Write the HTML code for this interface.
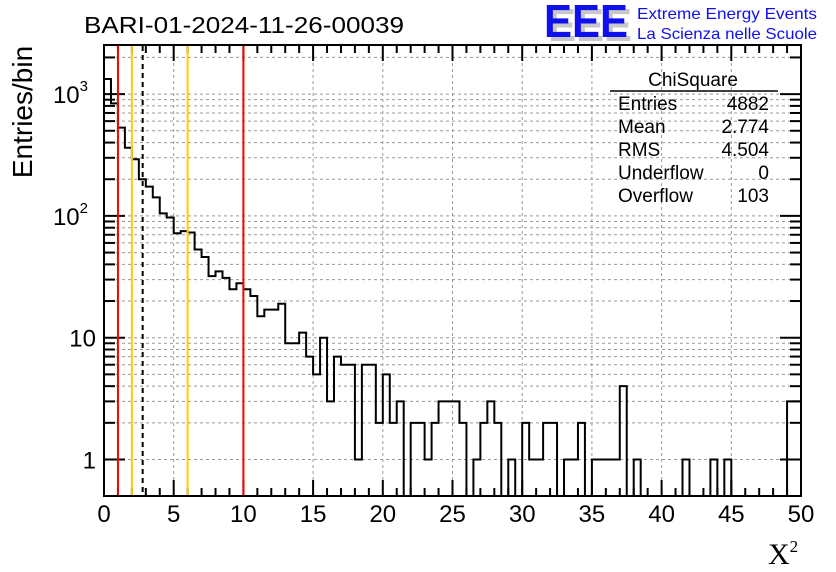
<!DOCTYPE html>
<html><head><meta charset="utf-8"><style>
html,body{margin:0;padding:0;background:#fff;}
svg{display:block;font-family:"Liberation Sans",sans-serif;}
</style></head><body>
<svg id="chart" width="836" height="572" viewBox="0 0 836 572">
<rect x="0" y="0" width="836" height="572" fill="#fff"/>
<g id="grid"></g>
<path id="hist" fill="none" stroke="#000" stroke-width="2"/>
<g id="axes"></g>
<g id="vlines"></g>
<text x="84" y="33" font-size="23" textLength="320" lengthAdjust="spacingAndGlyphs">BARI-01-2024-11-26-00039</text>
<g>
<text x="548" y="41" font-size="46" font-weight="bold" fill="#c8c8c8" textLength="84" lengthAdjust="spacingAndGlyphs">EEE</text>
<text x="544" y="37" font-size="46" font-weight="bold" fill="#1010ee" textLength="84" lengthAdjust="spacingAndGlyphs">EEE</text>
<text x="637" y="19" font-size="16" fill="#1010ee" textLength="180" lengthAdjust="spacingAndGlyphs">Extreme Energy Events</text>
<text x="637" y="39" font-size="16" fill="#1010ee" textLength="180" lengthAdjust="spacingAndGlyphs">La Scienza nelle Scuole</text>
</g>
<g font-size="19">
<text x="693" y="86" text-anchor="middle">ChiSquare</text>
<line x1="610" y1="91" x2="778" y2="91" stroke="#000" stroke-width="1.5"/>
<text x="618" y="110">Entries</text><text x="769" y="110" text-anchor="end">4882</text>
<text x="618" y="133">Mean</text><text x="769" y="133" text-anchor="end">2.774</text>
<text x="618" y="156">RMS</text><text x="769" y="156" text-anchor="end">4.504</text>
<text x="618" y="179">Underflow</text><text x="769" y="179" text-anchor="end">0</text>
<text x="618" y="202">Overflow</text><text x="769" y="202" text-anchor="end">103</text>
</g>
<text transform="translate(32,112) rotate(-90)" text-anchor="middle" font-size="28">Entries/bin</text>
<text x="768" y="564" font-family="Liberation Serif,serif" font-size="30">X<tspan font-size="17" dy="-12">2</tspan></text>
</svg>
<script>
const counts = [1330,840,530,363,292,200,174,142,105,97,72,75,73,53,46,32,35,31,25,28,25,22,15,17,17,19,9,9,11,7,5,10,3,7,6,6,1,6,6,2,5,2,3,0,2,2,1,2,3,3,3,2,0,1,2,3,2,0,1,0,2,1,1,2,2,0,1,1,2,0,1,1,1,1,4,0,1,0,0,0,0,0,0,1,0,0,0,1,0,1,0,0,0,0,0,0,0,0,3,3];
const xTicks = [0,5,10,15,20,25,30,35,40,45,50];
const cutValues = [1,2,2.774,6,10];
const cutColors = ["#ff0000","#ffcc00","#000","#ffcc00","#ff0000"];
const NS="http://www.w3.org/2000/svg";
const L=104,R=801,T=45,B=496,xMin=0,xMax=50,binW=0.5;
const y1=459.5,dec=121.8;
function X(v){return L+(v-xMin)/(xMax-xMin)*(R-L);}
function Y(v){if(v<=0.5)return B;const y=y1-Math.log10(v)*dec;return Math.max(T,Math.min(B,y));}
function mk(tag,attrs,parent){const e=document.createElementNS(NS,tag);for(const k in attrs)e.setAttribute(k,attrs[k]);parent.appendChild(e);return e;}
const grid=document.getElementById('grid'),axes=document.getElementById('axes'),vl=document.getElementById('vlines');
for(const t of xTicks){if(t>xMin&&t<xMax){const l=mk('line',{x1:X(t),x2:X(t),y1:T,y2:B,stroke:'#999','stroke-dasharray':'3,3'},grid);}}
const yVals=[];for(let d=0;d<=3;d++)for(let m=1;m<=9;m++)yVals.push(m*Math.pow(10,d));
for(const v of yVals){const y=Y(v);if(y>T&&y<B){const l=mk('line',{x1:L,x2:R,y1:y,y2:y,stroke:'#999','stroke-dasharray':'3,3'},grid);}}
cutValues.forEach((c,i)=>{const l=mk('line',{x1:X(c),x2:X(c),y1:T+1,y2:B-1,stroke:cutColors[i],'stroke-width':2},vl);if(i===2)l.setAttribute('stroke-dasharray','5,4');});
let d='M'+X(0)+','+B;
counts.forEach((c,i)=>{const y=Y(c);d+=' L'+X(i*binW)+','+y+' L'+X((i+1)*binW)+','+y;});
d+=' L'+X(counts.length*binW)+','+B;
document.getElementById('hist').setAttribute('d',d);
const fr=mk('rect',{x:L,y:T,width:R-L,height:B-T,fill:'none',stroke:'#000','stroke-width':2},axes);

for(let v=xMin;v<=xMax;v+=1){const maj=v%5===0;const len=maj?16:8;
mk('line',{x1:X(v),x2:X(v),y1:B,y2:B-len,stroke:'#000','stroke-width':2},axes);
mk('line',{x1:X(v),x2:X(v),y1:T,y2:T+len,stroke:'#000','stroke-width':2},axes);}
for(const t of xTicks){const tx=mk('text',{x:X(t),y:522,'text-anchor':'middle','font-size':24},axes);tx.textContent=t;}
for(const v of yVals){const y=Y(v);if(y<=T||y>=B)continue;const maj=[1,10,100,1000].includes(v);const len=maj?21:11;
mk('line',{x1:L,x2:L+len,y1:y,y2:y,stroke:'#000','stroke-width':2},axes);
mk('line',{x1:R,x2:R-len,y1:y,y2:y,stroke:'#000','stroke-width':2},axes);}
const yLabs=[[1,"1",""],[10,"10",""],[100,"10","2"],[1000,"10","3"]];
for(const [v,b,e] of yLabs){const tx=mk('text',{x:e?88:96,y:Y(v)+9,'text-anchor':'end','font-size':24},axes);tx.textContent=b;if(e){const s=mk('tspan',{'font-size':15,dy:-12},tx);s.textContent=e;}}
</script>
</body></html>
